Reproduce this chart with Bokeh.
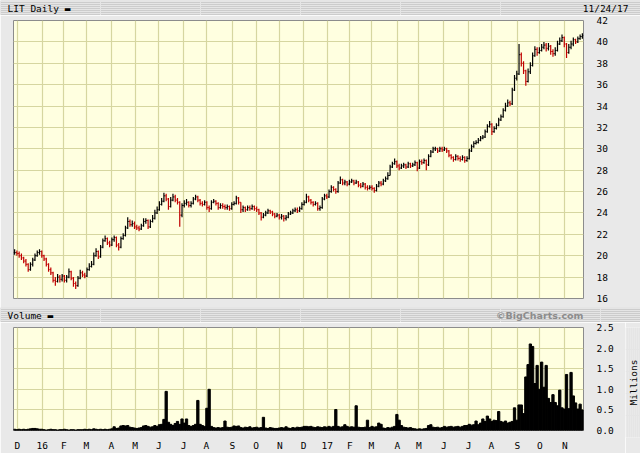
import numpy as np
import pandas as pd
from bokeh.plotting import figure
from bokeh.layouts import column, row
from bokeh.models import Range1d, FixedTicker, NumeralTickFormatter
from bokeh.core.properties import value
from bokeh.embed import file_html
from bokeh.resources import INLINE

# ---------------- data ----------------
chart_title = "LIT Daily \u25ac"
volume_title = "Volume \u25ac"
as_of = "11/24/17"
credit = "\u00a9BigCharts.com"
volume_unit = "Millions"
first_day = "2015-11-25"
last_day = "2017-11-24"
holidays = ["2015-11-26", "2015-12-25", "2016-01-01", "2016-01-18", "2016-02-15",
            "2016-03-25", "2016-05-30", "2016-07-04", "2016-09-05", "2016-11-24",
            "2016-12-26", "2017-01-02", "2017-01-16", "2017-02-20", "2017-04-14",
            "2017-05-29", "2017-07-04", "2017-09-04", "2017-11-23"]
month_labels = ["D", "16", "F", "M", "A", "M", "J", "J", "A", "S", "O", "N",
                "D", "17", "F", "M", "A", "M", "J", "J", "A", "S", "O", "N"]
price_ticks = [16, 18, 20, 22, 24, 26, 28, 30, 32, 34, 36, 38, 40, 42]
volume_ticks = [0.0, 0.5, 1.0, 1.5, 2.0, 2.5]

# one bar per two trading days
close = [
    20.3, 20.2, 20.0, 19.8, 19.5, 19.2, 18.7, 19.2, 19.6, 20.0, 20.3, 20.4,
    20.0, 19.7, 19.2, 18.7, 18.4, 17.7, 17.6, 18.0, 17.8, 18.1, 17.7, 18.0,
    18.5, 17.9, 17.4, 17.2, 17.9, 18.4, 18.2, 18.1, 18.7, 19.0, 19.2, 20.0,
    20.4, 19.9, 20.8, 21.4, 21.6, 21.2, 21.0, 21.5, 21.7, 21.0, 20.8, 21.6,
    21.9, 22.6, 23.2, 22.9, 23.0, 22.7, 22.6, 22.5, 22.8, 23.2, 23.3, 22.7,
    23.2, 23.5, 24.0, 24.3, 24.8, 25.1, 25.6, 25.3, 24.6, 25.2, 25.5, 25.2,
    25.0, 23.8, 24.7, 24.9, 25.0, 24.7, 24.9, 25.3, 25.5, 25.2, 24.9, 24.8,
    25.0, 24.5, 24.4, 25.0, 25.1, 24.9, 24.5, 24.7, 24.6, 24.5, 24.6, 24.4,
    24.8, 24.9, 25.4, 25.0, 24.3, 24.5, 24.3, 24.5, 24.4, 24.6, 24.4, 24.3,
    24.0, 23.6, 23.8, 24.0, 24.2, 24.1, 23.9, 23.7, 23.8, 23.6, 23.7, 23.5,
    23.6, 23.9, 24.0, 24.2, 24.3, 24.2, 24.4, 24.8, 25.0, 25.5, 25.2, 25.0,
    24.8, 24.9, 24.4, 24.5, 25.3, 25.6, 25.5, 26.0, 26.4, 26.2, 26.0, 26.8,
    27.1, 26.8, 26.9, 26.7, 26.9, 27.0, 26.8, 26.9, 26.6, 26.5, 26.7, 26.4,
    26.3, 26.4, 26.3, 26.1, 26.5, 26.8, 26.7, 27.0, 27.2, 27.5, 28.3, 28.6,
    28.8, 28.4, 28.2, 28.4, 28.5, 28.3, 28.6, 28.4, 28.5, 28.7, 28.2, 28.8,
    28.7, 28.9, 28.5, 29.3, 29.7, 30.0, 30.0, 29.8, 30.0, 29.9, 30.0, 29.8,
    29.4, 29.2, 29.0, 29.3, 29.1, 29.0, 29.2, 28.9, 29.1, 29.8, 30.2, 30.5,
    30.6, 30.8, 31.0, 31.1, 31.6, 32.1, 32.3, 31.6, 31.9, 32.2, 32.7, 33.0,
    33.6, 34.0, 34.3, 34.2, 35.5, 36.6, 37.0, 38.8, 38.0, 37.3, 36.3, 37.2,
    37.8, 38.7, 39.3, 39.0, 39.2, 39.5, 39.7, 39.4, 39.6, 39.1, 38.9, 39.2,
    39.8, 40.1, 40.4, 39.8, 39.0, 39.5, 39.8, 40.2, 40.0, 40.3, 40.5, 40.6,
]
high = [
    20.6, 20.5, 20.4, 20.2, 19.9, 19.7, 19.3, 19.4, 19.8, 20.2, 20.5, 20.6,
    20.5, 20.1, 19.8, 19.3, 18.9, 18.5, 18.0, 18.3, 18.2, 18.3, 18.2, 18.2,
    18.8, 18.6, 18.0, 17.6, 18.1, 18.7, 18.6, 18.4, 18.9, 19.3, 19.5, 20.3,
    20.7, 20.5, 21.0, 21.6, 21.9, 21.7, 21.4, 21.7, 21.9, 21.8, 21.2, 21.8,
    22.1, 22.8, 23.6, 23.4, 23.3, 23.2, 22.9, 22.8, 23.0, 23.5, 23.5, 23.4,
    23.4, 23.8, 24.3, 24.6, 25.1, 25.4, 25.9, 25.8, 25.4, 25.5, 25.8, 25.7,
    25.4, 25.1, 24.9, 25.2, 25.3, 25.1, 25.1, 25.5, 25.7, 25.6, 25.3, 25.1,
    25.2, 25.1, 24.7, 25.2, 25.3, 25.2, 25.0, 24.9, 24.9, 24.8, 24.8, 24.7,
    25.0, 25.1, 25.6, 25.5, 25.0, 24.7, 24.6, 24.7, 24.7, 24.8, 24.7, 24.6,
    24.4, 24.1, 24.0, 24.2, 24.4, 24.3, 24.2, 24.0, 24.0, 23.9, 23.9, 23.8,
    23.8, 24.1, 24.2, 24.4, 24.5, 24.5, 24.6, 25.0, 25.2, 25.8, 25.6, 25.3,
    25.1, 25.1, 25.0, 24.7, 25.5, 25.8, 25.8, 26.2, 26.6, 26.5, 26.3, 27.0,
    27.4, 27.2, 27.1, 27.0, 27.1, 27.2, 27.1, 27.1, 27.0, 26.8, 26.9, 26.8,
    26.6, 26.6, 26.6, 26.4, 26.7, 27.0, 27.0, 27.2, 27.4, 27.8, 28.5, 28.8,
    29.1, 28.9, 28.6, 28.6, 28.7, 28.6, 28.8, 28.7, 28.7, 28.9, 28.8, 29.0,
    29.0, 29.1, 29.0, 29.5, 29.9, 30.2, 30.2, 30.1, 30.2, 30.2, 30.2, 30.1,
    29.9, 29.5, 29.3, 29.5, 29.4, 29.3, 29.4, 29.3, 29.3, 30.0, 30.4, 30.7,
    30.8, 31.0, 31.2, 31.3, 31.8, 32.3, 32.6, 32.4, 32.1, 32.4, 32.9, 33.2,
    33.8, 34.3, 34.6, 34.5, 35.7, 36.9, 37.3, 39.8, 39.0, 38.2, 37.4, 37.5,
    38.1, 39.0, 39.6, 39.5, 39.5, 39.8, 40.0, 39.9, 39.9, 39.7, 39.3, 39.5,
    40.1, 40.4, 40.7, 40.5, 39.9, 39.8, 40.1, 40.4, 40.3, 40.5, 40.7, 40.8,
]
low = [
    20.1, 20.0, 19.8, 19.6, 19.3, 19.0, 18.5, 18.6, 19.0, 19.5, 19.9, 20.1,
    19.8, 19.5, 19.0, 18.5, 18.2, 17.5, 17.2, 17.5, 17.5, 17.6, 17.5, 17.5,
    17.9, 17.7, 17.1, 16.9, 17.1, 17.8, 18.0, 17.9, 18.0, 18.6, 18.9, 19.1,
    19.9, 19.7, 19.8, 20.7, 21.3, 21.0, 20.8, 20.9, 21.3, 20.8, 20.5, 20.7,
    21.5, 21.8, 22.5, 22.7, 22.7, 22.5, 22.4, 22.3, 22.4, 22.7, 23.0, 22.5,
    22.6, 23.1, 23.4, 23.9, 24.2, 24.7, 25.0, 25.1, 24.3, 24.5, 25.1, 25.0,
    24.8, 22.7, 23.6, 24.5, 24.7, 24.5, 24.5, 24.8, 25.2, 25.0, 24.7, 24.6,
    24.7, 24.3, 24.1, 24.3, 24.9, 24.7, 24.3, 24.4, 24.4, 24.3, 24.3, 24.2,
    24.3, 24.7, 24.8, 24.8, 24.0, 24.1, 24.1, 24.2, 24.2, 24.3, 24.2, 24.1,
    23.8, 23.3, 23.5, 23.7, 23.9, 23.9, 23.7, 23.5, 23.6, 23.4, 23.4, 23.2,
    23.3, 23.5, 23.8, 23.9, 24.1, 24.0, 24.1, 24.3, 24.7, 24.9, 25.0, 24.8,
    24.6, 24.7, 24.2, 24.2, 24.4, 25.2, 25.3, 25.4, 25.9, 26.0, 25.8, 25.9,
    26.7, 26.6, 26.6, 26.5, 26.6, 26.8, 26.6, 26.7, 26.4, 26.3, 26.4, 26.2,
    26.1, 26.2, 26.1, 25.9, 26.0, 26.4, 26.5, 26.6, 26.9, 27.1, 27.5, 28.2,
    28.5, 28.2, 28.0, 28.1, 28.2, 28.1, 28.2, 28.2, 28.3, 28.4, 27.9, 28.1,
    28.5, 28.6, 28.0, 28.4, 29.2, 29.6, 29.8, 29.6, 29.7, 29.7, 29.8, 29.6,
    29.2, 29.0, 28.8, 28.9, 28.9, 28.8, 28.9, 28.7, 28.8, 29.0, 29.7, 30.1,
    30.4, 30.5, 30.7, 30.9, 31.0, 31.5, 32.0, 31.3, 31.5, 31.8, 32.1, 32.6,
    32.9, 33.5, 33.9, 34.0, 34.1, 35.4, 36.4, 36.9, 37.7, 37.0, 35.9, 36.2,
    37.0, 37.7, 38.6, 38.7, 38.9, 39.1, 39.3, 39.1, 39.2, 38.8, 38.6, 38.7,
    39.1, 39.7, 40.0, 39.5, 38.5, 38.9, 39.3, 39.6, 39.8, 39.9, 40.2, 40.3,
]
# millions of shares
volume = [
    0.03, 0.02, 0.03, 0.02, 0.03, 0.02, 0.03, 0.04, 0.05, 0.05, 0.04, 0.03,
    0.03, 0.02, 0.01, 0.02, 0.03, 0.02, 0.02, 0.01, 0.02, 0.02, 0.03, 0.02,
    0.01, 0.02, 0.02, 0.01, 0.02, 0.02, 0.02, 0.03, 0.02, 0.03, 0.02, 0.04,
    0.03, 0.02, 0.03, 0.02, 0.03, 0.02, 0.03, 0.04, 0.09, 0.05, 0.06, 0.11,
    0.12, 0.11, 0.12, 0.08, 0.07, 0.06, 0.05, 0.06, 0.07, 0.11, 0.12, 0.10,
    0.08, 0.09, 0.12, 0.10, 0.14, 0.15, 0.27, 0.95, 0.20, 0.15, 0.12, 0.17,
    0.22, 0.15, 0.28, 0.18, 0.28, 0.12, 0.10, 0.12, 0.15, 0.73, 0.15, 0.12,
    0.10, 0.54, 1.00, 0.10, 0.07, 0.06, 0.07, 0.06, 0.07, 0.23, 0.08, 0.07,
    0.08, 0.11, 0.10, 0.11, 0.07, 0.06, 0.08, 0.07, 0.09, 0.06, 0.07, 0.08,
    0.06, 0.07, 0.32, 0.06, 0.05, 0.07, 0.06, 0.05, 0.05, 0.06, 0.07, 0.06,
    0.09, 0.06, 0.05, 0.07, 0.06, 0.08, 0.07, 0.08, 0.10, 0.10, 0.09, 0.10,
    0.08, 0.07, 0.09, 0.08, 0.07, 0.09, 0.08, 0.10, 0.08, 0.10, 0.51, 0.10,
    0.08, 0.09, 0.14, 0.10, 0.08, 0.09, 0.08, 0.60, 0.08, 0.07, 0.07, 0.08,
    0.25, 0.07, 0.10, 0.08, 0.09, 0.18, 0.15, 0.06, 0.05, 0.07, 0.06, 0.08,
    0.10, 0.39, 0.25, 0.12, 0.08, 0.07, 0.06, 0.07, 0.05, 0.04, 0.03, 0.04,
    0.03, 0.04, 0.05, 0.12, 0.14, 0.08, 0.07, 0.08, 0.06, 0.07, 0.10, 0.08,
    0.09, 0.10, 0.08, 0.09, 0.10, 0.08, 0.10, 0.12, 0.12, 0.15, 0.13, 0.14,
    0.23, 0.14, 0.18, 0.28, 0.22, 0.35, 0.28, 0.22, 0.25, 0.24, 0.46, 0.22,
    0.20, 0.23, 0.18, 0.20, 0.22, 0.55, 0.25, 0.62, 0.62, 0.41, 1.30, 1.60,
    2.10, 2.04, 1.14, 1.58, 1.00, 1.66, 1.05, 1.58, 0.78, 0.68, 0.87, 0.68,
    0.60, 0.98, 0.55, 0.52, 1.36, 0.53, 1.41, 0.84, 0.67, 0.52, 0.64, 0.50,
]

# ---------------- derived positions ----------------
days = pd.bdate_range(first_day, last_day)
days = days[~days.isin(pd.to_datetime(holidays))]
n_days = len(days)
step = max(1, round(n_days / len(close)))
xs = np.arange(len(close)) * step + (step - 1) / 2.0
prev = [close[0]] + close[:-1]
colors = ["#c00000" if c < pc else "#000000" for c, pc in zip(close, prev)]

mkey = days.year * 12 + days.month
month_starts = [int(i) for i in range(1, n_days) if mkey[i] != mkey[i - 1]]
label_map = {m: lab for m, lab in zip(month_starts, month_labels)}

# ---------------- styling ----------------
W = 640
SIDE = 15                   # strip on the far right holding the "Millions" label
FL, FR = 13, 57
PAGE_BG = "#e9e9e9"
BAR_BG = "#cccccc"
PLOT_BG = "#ffffe0"
GRID = "#d6d6a0"
MONO = "DejaVu Sans Mono"


def no_align(fig):
    if "frame_align" in fig.properties():
        fig.frame_align = False
    return fig


def title_bar(left_text, right_text, right_x, right_style):
    b = figure(width=W, height=15, x_range=Range1d(0, W), y_range=Range1d(0, 15),
               toolbar_location=None, output_backend="svg",
               x_axis_location=None, y_axis_location=None,
               min_border_left=0, min_border_right=0, min_border_top=0, min_border_bottom=0,
               background_fill_color=BAR_BG, border_fill_color=BAR_BG,
               outline_line_color=None)
    no_align(b)
    b.text(x=[7], y=[7.5], text=[left_text], text_font=value(MONO),
           text_font_size="9.5px", text_baseline="middle", text_align="left",
           text_color="#000000")
    b.text(x=[right_x], y=[7.5], text=[right_text], text_baseline="middle",
           text_align="right", **right_style)
    return b


top = title_bar(chart_title, as_of, W - 12,
                dict(text_font=value(MONO), text_font_size="9.5px", text_color="#000000"))
mid = title_bar(volume_title, credit, W - FR,
                dict(text_font=value("DejaVu Sans"), text_font_size="9.5px",
                     text_font_style="bold", text_color="#8c8c8c"))

# price panel
p = figure(width=W, height=292, x_range=Range1d(-0.5, n_days - 0.5),
           y_range=Range1d(price_ticks[0], price_ticks[-1]),
           toolbar_location=None, output_backend="svg",
           x_axis_location="below", y_axis_location="right",
           min_border_left=FL, min_border_right=FR, min_border_top=5, min_border_bottom=9,
           background_fill_color=PLOT_BG, border_fill_color=PAGE_BG,
           outline_line_color="#8c8c8c")
no_align(p)
p.xaxis.ticker = FixedTicker(ticks=month_starts)
p.xaxis.visible = False
p.yaxis.ticker = FixedTicker(ticks=price_ticks)
p.grid.grid_line_color = GRID
p.grid.grid_line_width = 1.2
p.segment(x0=xs, y0=low, x1=xs, y1=high, line_color=colors, line_width=1.2)
p.segment(x0=xs - 0.9, y0=prev, x1=xs, y1=prev, line_color=colors, line_width=1)
p.segment(x0=xs, y0=close, x1=xs + 0.9, y1=close, line_color=colors, line_width=1)

# volume panel
v = figure(width=W - SIDE, height=131, x_range=p.x_range,
           y_range=Range1d(volume_ticks[0], volume_ticks[-1]),
           toolbar_location=None, output_backend="svg",
           x_axis_location="below", y_axis_location="right",
           min_border_left=FL, min_border_right=FR - SIDE, min_border_top=5,
           min_border_bottom=16,
           background_fill_color=PLOT_BG, border_fill_color=PAGE_BG,
           outline_line_color="#8c8c8c")
no_align(v)
v.vbar(x=xs, top=volume, width=step, fill_color="#000000",
       line_color="#000000", line_width=1.0)
v.yaxis.ticker = FixedTicker(ticks=volume_ticks)
v.yaxis.formatter = NumeralTickFormatter(format="0.0")
v.xaxis.ticker = FixedTicker(ticks=month_starts)
v.xaxis.major_label_overrides = label_map
v.grid.grid_line_color = GRID
v.grid.grid_line_width = 1.2

side = figure(width=SIDE, height=131, x_range=Range1d(0, SIDE),
              y_range=Range1d(volume_ticks[0], volume_ticks[-1]),
              toolbar_location=None, output_backend="svg",
              x_axis_location=None, y_axis_location=None,
              min_border_left=0, min_border_right=0, min_border_top=5, min_border_bottom=16,
              background_fill_color=PAGE_BG, border_fill_color=PAGE_BG,
              outline_line_color=None)
no_align(side)
side.text(x=[SIDE / 2], y=[(volume_ticks[0] + volume_ticks[-1]) / 2], text=[volume_unit],
          angle=np.pi / 2, text_align="center", text_baseline="middle",
          text_font=value(MONO), text_font_size="9.5px", text_color="#000000")

for ax in (p.yaxis[0], v.yaxis[0], v.xaxis[0]):
    ax.axis_line_color = None
    ax.major_tick_line_color = None
    ax.minor_tick_line_color = None
    ax.major_label_text_font = MONO
    ax.major_label_text_font_size = "9.5px"
    ax.major_label_text_color = "#000000"
p.yaxis.major_label_standoff = 7
v.yaxis.major_label_standoff = 7
v.xaxis.major_label_standoff = 3

layout = column(top, p, mid, row(v, side, spacing=0), spacing=0)
open("out.html", "w").write(file_html(layout, INLINE))
